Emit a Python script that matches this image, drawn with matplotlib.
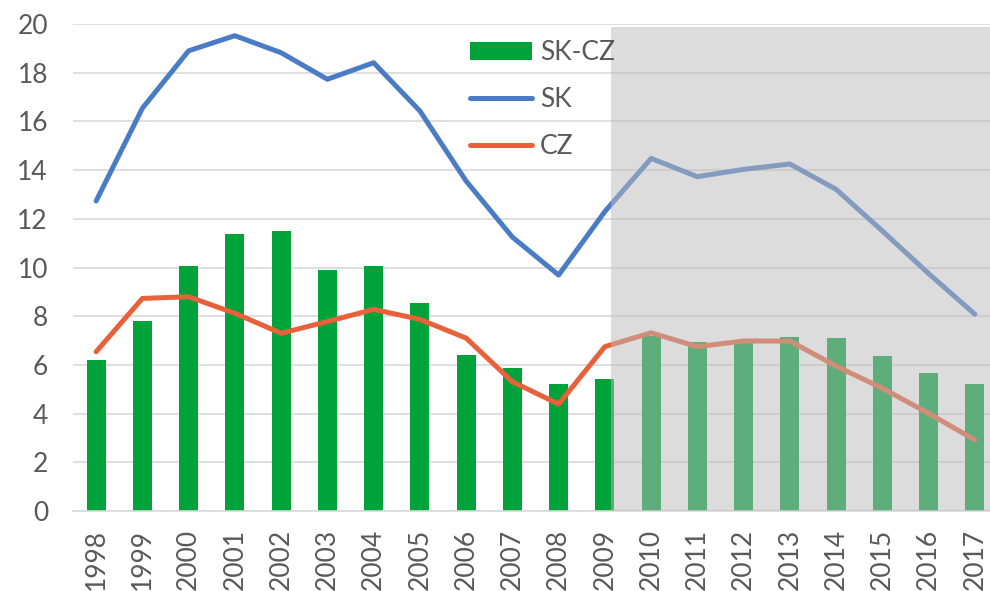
import numpy as np
import matplotlib
matplotlib.use('Agg')
import matplotlib.pyplot as plt
from matplotlib.patches import Rectangle

# data
years = ['1998', '1999', '2000', '2001', '2002', '2003', '2004', '2005', '2006', '2007',
         '2008', '2009', '2010', '2011', '2012', '2013', '2014', '2015', '2016', '2017']
sk_cz = [6.2, 7.82, 10.07, 11.36, 11.51, 9.88, 10.07, 8.53, 6.39, 5.86,
         5.22, 5.42, 7.19, 6.95, 6.97, 7.16, 7.09, 6.38, 5.68, 5.22]
sk = [12.73, 16.54, 18.9, 19.52, 18.82, 17.73, 18.41, 16.43, 13.55, 11.25,
      9.69, 12.3, 14.48, 13.73, 14.03, 14.25, 13.21, 11.5, 9.75, 8.08]
cz = [6.54, 8.73, 8.8, 8.12, 7.3, 7.78, 8.28, 7.87, 7.1, 5.31,
      4.39, 6.75, 7.32, 6.75, 6.98, 6.98, 5.95, 5.04, 4.01, 2.92]

plt.rcParams['font.family'] = ['Lato', 'DejaVu Sans']

fig = plt.figure(figsize=(9.9, 5.91), dpi=100)
ax = fig.add_axes([73 / 990, 80 / 591, 925 / 990, 487 / 591])

x = np.arange(len(years))
bars = ax.bar(x, sk_cz, width=0.41, color='#00A23A', label='SK-CZ', zorder=2)
l_sk, = ax.plot(x, sk, color='#4A7CC6', lw=3.6, label='SK', zorder=3, solid_capstyle='round')
l_cz, = ax.plot(x, cz, color='#E8613A', lw=3.6, label='CZ', zorder=3, solid_capstyle='round')

# shaded projection area
ax.add_patch(Rectangle((11.13, 0), 9, 19.88, facecolor=(186 / 255,) * 3, alpha=0.5,
                       edgecolor='none', zorder=5))

ax.set_xlim(-0.5, 19.5)
ax.set_ylim(0, 20)
ax.set_yticks(range(0, 21, 2))
ax.set_xticks(x)
ax.set_xticklabels(years, rotation=90)
ax.tick_params(axis='both', length=0, labelsize=19, labelcolor='#595959')
ax.tick_params(axis='y', pad=18)
ax.tick_params(axis='x', pad=13)

for s in ['top', 'right', 'left']:
    ax.spines[s].set_visible(False)
ax.spines['bottom'].set_color('#D9D9D9')
ax.spines['bottom'].set_linewidth(1.2)
ax.grid(axis='y', color='#D9D9D9', lw=1.2)
ax.set_axisbelow(True)

leg = ax.legend([bars, l_sk, l_cz], ['SK-CZ', 'SK', 'CZ'],
                loc='upper left', bbox_to_anchor=(470 / 990, 1 - 40 / 591),
                bbox_transform=fig.transFigure, frameon=False, fontsize=19,
                handlelength=2.35, handletextpad=0.3, labelspacing=0.84,
                borderpad=0, borderaxespad=0)
for t in leg.get_texts():
    t.set_color('#595959')

fig.savefig('out.png', dpi=100)
